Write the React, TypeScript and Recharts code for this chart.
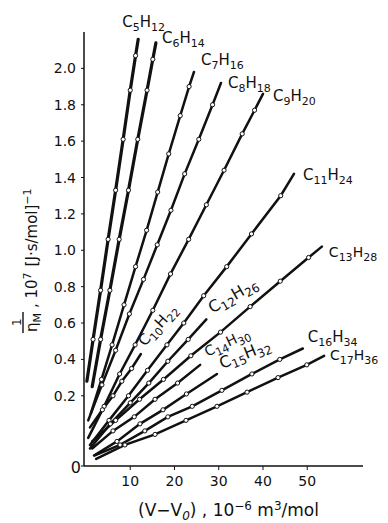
import React from "react"
import { Line, LineChart, XAxis, YAxis } from "recharts"

// x: (V - V0), 10^-6 m3/mol    y: 1/eta_M, 10^7 [J.s/mol]^-1
const c5X = [0.2, 1.6, 3.3, 5.0, 6.7, 8.4, 10.0, 11.2, 11.8]
const c5Y = [0.28, 0.51, 0.78, 1.06, 1.33, 1.61, 1.88, 2.07, 2.16]
const c6X = [1.4, 3.3, 5.4, 7.5, 9.6, 11.7, 13.8, 15.1, 15.8]
const c6Y = [0.25, 0.51, 0.78, 1.06, 1.33, 1.61, 1.88, 2.05, 2.14]
const c7X = [1.1, 3.5, 5.9, 8.6, 11.2, 13.7, 16.2, 18.7, 21.3, 23.3, 24.4]
const c7Y = [0.15, 0.29, 0.48, 0.7, 0.91, 1.11, 1.32, 1.53, 1.74, 1.9, 1.98]
const c8X = [0.5, 3.6, 6.7, 9.8, 13.0, 16.1, 19.2, 22.3, 25.5, 28.6, 30.5]
const c8Y = [0.13, 0.26, 0.45, 0.65, 0.84, 1.03, 1.22, 1.42, 1.61, 1.8, 1.92]
const c9X = [0.5, 4.1, 7.6, 11.1, 15.1, 19.1, 23.2, 27.2, 31.2, 35.3, 38.1, 40.0]
const c9Y = [0.08, 0.17, 0.32, 0.48, 0.67, 0.87, 1.06, 1.25, 1.44, 1.64, 1.77, 1.86]
const c10X = [0.9, 3.7, 6.1, 8.1, 10.3, 12.4]
const c10Y = [0.11, 0.16, 0.2, 0.28, 0.35, 0.43]
const c11X = [0.9, 5.2, 9.6, 13.9, 18.3, 22.1, 26.6, 31.8, 37.4, 44.0, 47.0]
const c11Y = [0.06, 0.13, 0.2, 0.34, 0.48, 0.6, 0.75, 0.91, 1.09, 1.3, 1.42]
const c12X = [0.9, 5.5, 10.0, 14.2, 18.5, 23.1, 27.2]
const c12Y = [0.05, 0.12, 0.18, 0.27, 0.39, 0.51, 0.62]
const c13X = [1.4, 6.7, 12.1, 17.5, 23.7, 30.4, 37.1, 43.9, 50.3, 53.3]
const c13Y = [0.07, 0.13, 0.19, 0.29, 0.42, 0.55, 0.69, 0.83, 0.96, 1.02]
const c14X = [1.4, 6.1, 10.9, 15.6, 20.7, 25.8]
const c14Y = [0.05, 0.1, 0.14, 0.19, 0.27, 0.37]
const c15X = [1.8, 7.0, 12.2, 17.4, 22.7, 29.6]
const c15Y = [0.03, 0.07, 0.12, 0.16, 0.21, 0.32]
const c16X = [2.0, 7.7, 13.3, 18.5, 24.0, 30.7, 37.5, 43.8, 49.0]
const c16Y = [0.03, 0.06, 0.1, 0.14, 0.17, 0.23, 0.32, 0.4, 0.46]
const c17X = [2.3, 8.8, 15.6, 22.6, 29.6, 36.4, 43.4, 49.9, 53.8]
const c17Y = [0.02, 0.06, 0.09, 0.13, 0.17, 0.22, 0.3, 0.37, 0.42]

const xTicks = [10, 20, 30, 40, 50]
const yTicks = [0, 0.2, 0.4, 0.6, 0.8, 1.0, 1.2, 1.4, 1.6, 1.8, 2.0]

const series = [
  { name: "C5H12", c: "5", h: "12", x: c5X, y: c5Y },
  { name: "C6H14", c: "6", h: "14", x: c6X, y: c6Y },
  { name: "C7H16", c: "7", h: "16", x: c7X, y: c7Y },
  { name: "C8H18", c: "8", h: "18", x: c8X, y: c8Y },
  { name: "C9H20", c: "9", h: "20", x: c9X, y: c9Y },
  { name: "C10H22", c: "10", h: "22", x: c10X, y: c10Y },
  { name: "C11H24", c: "11", h: "24", x: c11X, y: c11Y },
  { name: "C12H26", c: "12", h: "26", x: c12X, y: c12Y },
  { name: "C13H28", c: "13", h: "28", x: c13X, y: c13Y },
  { name: "C14H30", c: "14", h: "30", x: c14X, y: c14Y },
  { name: "C15H32", c: "15", h: "32", x: c15X, y: c15Y },
  { name: "C16H34", c: "16", h: "34", x: c16X, y: c16Y },
  { name: "C17H36", c: "17", h: "36", x: c17X, y: c17Y },
]

// where each formula sits relative to the end of its line
const labelPos: Record<string, { dx: number; dy: number; angle: number; size: number }> = {
  C5H12: { dx: -16, dy: -12, angle: 0, size: 15 },
  C6H14: { dx: 6, dy: 0, angle: 0, size: 15 },
  C7H16: { dx: 7, dy: -7, angle: 0, size: 15 },
  C8H18: { dx: 7, dy: 5, angle: 0, size: 15 },
  C9H20: { dx: 10, dy: 7, angle: 0, size: 15 },
  C10H22: { dx: 4, dy: -7, angle: 48, size: 15 },
  C11H24: { dx: 9, dy: 6, angle: 0, size: 15 },
  C12H26: { dx: 6, dy: -6, angle: 30, size: 16 },
  C13H28: { dx: 7, dy: 10, angle: 0, size: 14 },
  C14H30: { dx: 7, dy: -8, angle: 25, size: 14 },
  C15H32: { dx: 5, dy: -5, angle: 22, size: 16 },
  C16H34: { dx: 5, dy: -6, angle: 0, size: 15 },
  C17H36: { dx: 6, dy: 4, angle: 0, size: 14 },
}

const FONT = "'DejaVu Sans', sans-serif"
const INK = "#111"

// the axis is broken under 0.2: 0 -> 0.2 takes about twice the room of a normal step
const BREAK = 0.2
const STRETCH = 1.93
const toPlot = (v: number) => (v >= BREAK ? v : BREAK - (BREAK - v) * STRETCH)

const makeDot = (name: string, c: string, h: string, count: number) => (props: any) => {
  const { cx, cy, index } = props
  const key = `${name}-${index}`
  if (index === count - 1) {
    const p = labelPos[name]
    const lx = cx + p.dx
    const ly = cy + p.dy
    const sub = Math.round(p.size * 0.75)
    return (
      <text
        key={key}
        x={lx}
        y={ly}
        fontFamily={FONT}
        fontSize={p.size}
        fill={INK}
        transform={p.angle ? `rotate(${-p.angle} ${lx} ${ly})` : undefined}
      >
        <tspan>C</tspan>
        <tspan dy={4} fontSize={sub}>{c}</tspan>
        <tspan dy={-4}>H</tspan>
        <tspan dy={4} fontSize={sub}>{h}</tspan>
      </text>
    )
  }
  if (index === 0) return <g key={key} />
  return <circle key={key} cx={cx} cy={cy} r={2.1} fill="#fff" stroke={INK} strokeWidth={1} />
}

const YTick = (props: any) => {
  const { x, y, payload } = props
  const zero = payload.value < 0
  return (
    <g>
      <text
        x={zero ? x + 2 : x - 3}
        y={y}
        dy={zero ? 7 : 5}
        textAnchor="end"
        fontFamily={FONT}
        fontSize={zero ? 16 : 14}
        fill={INK}
      >
        {zero ? "0" : payload.value.toFixed(1)}
      </text>
    </g>
  )
}

export default function App() {
  const W = 380
  const H = 515
  return (
    <div style={{ position: "relative", width: W, height: H, background: "#fff" }}>
      <LineChart width={W} height={H} margin={{ top: 24, right: 25, left: 26, bottom: 27 }}>
        <XAxis
          type="number"
          dataKey="x"
          domain={[-0.45, 62.6]}
          ticks={xTicks}
          height={30}
          axisLine={{ stroke: INK, strokeWidth: 1.5 }}
          tickLine={{ stroke: INK }}
          tickSize={4}
          tick={{ fill: INK, fontSize: 14, fontFamily: FONT }}
          tickMargin={6}
        />
        <YAxis
          type="number"
          dataKey="y"
          domain={[toPlot(0), 2.2]}
          ticks={yTicks.map(toPlot)}
          interval={0}
          width={50}
          axisLine={{ stroke: INK, strokeWidth: 1.5 }}
          tickLine={{ stroke: INK }}
          tickSize={3}
          tick={<YTick />}
        />
        {series.map((s) => (
          <Line
            key={s.name}
            data={s.x.map((x, i) => ({ x, y: toPlot(s.y[i]) }))}
            dataKey="y"
            stroke={INK}
            strokeWidth={s.name === "C5H12" || s.name === "C6H14" ? 3.2 : 2.5}
            strokeLinecap="round"
            dot={makeDot(s.name, s.c, s.h, s.x.length)}
            activeDot={false}
            isAnimationActive={false}
          />
        ))}
      </LineChart>
      <svg
        width={W}
        height={H}
        style={{ position: "absolute", left: 0, top: 0, pointerEvents: "none" }}
        fontFamily={FONT}
        fill={INK}
      >
        <g transform="translate(29 324) rotate(-90)">
          <text x={0} y={0} fontSize={15}>
            <tspan>η</tspan>
            <tspan dy={4} fontSize={11}>M</tspan>
          </text>
          <line x1={-1} x2={20} y1={-14} y2={-14} stroke={INK} strokeWidth={1.4} />
          <text x={6} y={-16} fontSize={12}>1</text>
          <text x={24} y={0} fontSize={15}>
            <tspan>, 10</tspan>
            <tspan dy={-6} fontSize={11}>7</tspan>
            <tspan dy={6} dx={6}>[J·s/mol]</tspan>
            <tspan dy={-6} fontSize={11}>−1</tspan>
          </text>
        </g>
        <text x={130} y={508} fontSize={17}>
          <tspan>(V−V</tspan>
          <tspan dy={4} fontSize={12} fontStyle="italic">0</tspan>
          <tspan dy={-4}>) , 10</tspan>
          <tspan dy={-6} fontSize={12}>−6</tspan>
          <tspan dy={6}> m</tspan>
          <tspan dy={-6} fontSize={12}>3</tspan>
          <tspan dy={6}>/mol</tspan>
        </text>
      </svg>
    </div>
  )
}
